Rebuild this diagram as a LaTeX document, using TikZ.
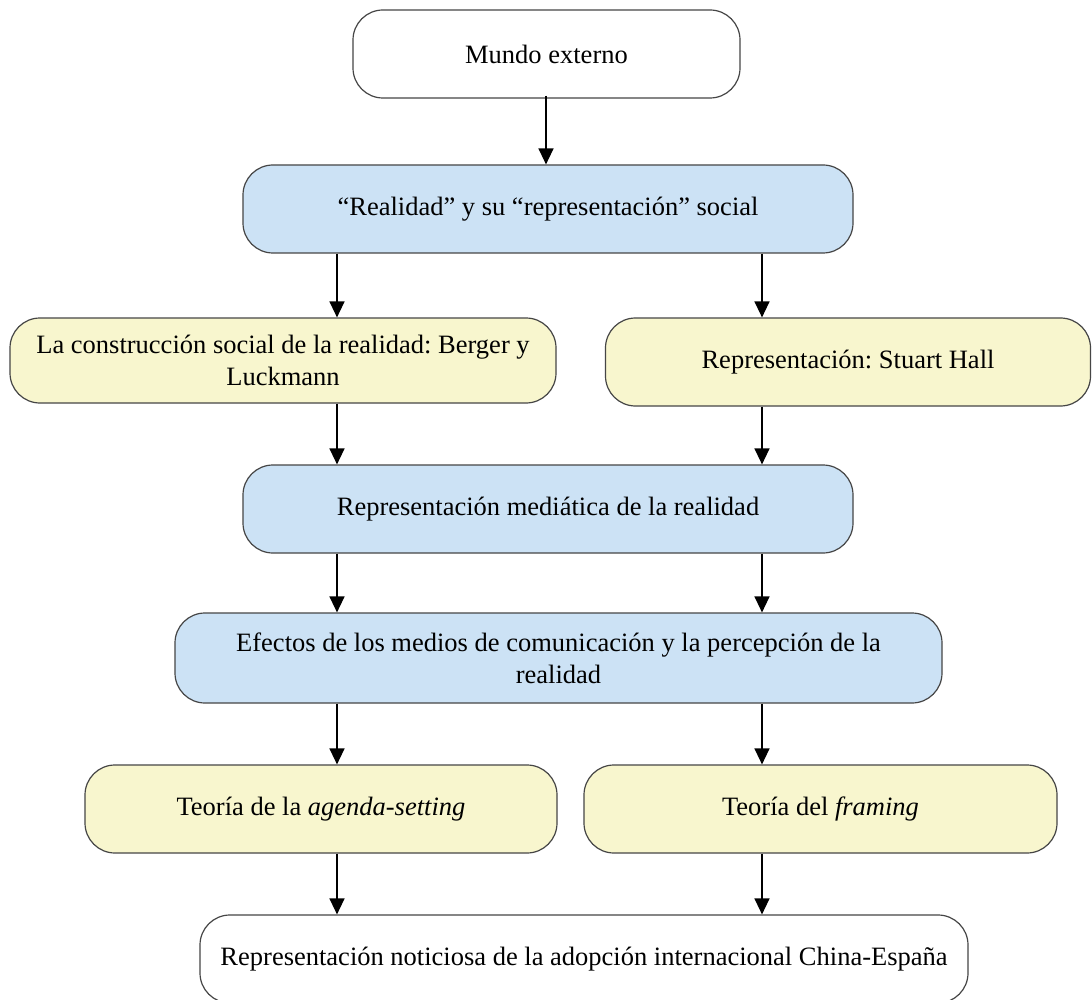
\documentclass[tikz,border=0pt]{standalone}
\usepackage{fontspec}
\setmainfont{Liberation Serif}
\usetikzlibrary{arrows.meta}
\frenchspacing
\definecolor{boxblue}{RGB}{204,226,245}
\definecolor{boxyellow}{RGB}{248,246,206}
\definecolor{boxline}{RGB}{70,70,70}
\tikzset{
  box/.style={draw=boxline, line width=1.2pt, rounded corners=30pt, align=center,
    inner sep=0pt, minimum height=88pt, font=\fontsize{26.5}{32}\selectfont},
  bluebox/.style={box, fill=boxblue},
  yellowbox/.style={box, fill=boxyellow},
  whitebox/.style={box, fill=white},
}
\begin{document}
\begin{tikzpicture}[x=1pt, y=-1pt, >={Triangle[width=15pt,length=16pt]}, line width=1.4pt]
\useasboundingbox[fill=white] (0,0) rectangle (1092,1000);
\coordinate (L) at (337,0);
\coordinate (R) at (762,0);

\node[whitebox, minimum width=387pt] (mundo) at (546.5,54) {Mundo externo};
\node[bluebox, minimum width=610pt] (realidad) at (548,209) {“Realidad” y su “representación” social};
\node[yellowbox, minimum width=546pt, minimum height=85pt] (berger) at (283,360.5) {La construcción social de la realidad: Berger y\\Luckmann};
\node[yellowbox, minimum width=485pt] (hall) at (848,362) {Representación: Stuart Hall};
\node[bluebox, minimum width=610pt] (mediatica) at (548,509) {Representación mediática de la realidad};
\node[bluebox, minimum width=767pt, minimum height=90pt] (efectos) at (558.5,658) {Efectos de los medios de comunicación y la percepción de la\\realidad};
\node[yellowbox, minimum width=472pt] (agenda) at (321,809) {Teoría de la \textit{agenda-setting}};
\node[yellowbox, minimum width=473pt] (framing) at (820.5,809) {Teoría del \textit{framing}};
\node[whitebox, minimum width=768pt] (noticiosa) at (584,959) {Representación noticiosa de la adopción internacional China-España};

\draw[->] ([yshift=3pt]mundo.south -| 546,0) -- (realidad.north -| 546,0);
\draw[->] (realidad.south -| L) -- (berger.north -| L);
\draw[->] (realidad.south -| R) -- (hall.north -| R);
\draw[->] (berger.south -| L) -- (mediatica.north -| L);
\draw[->] (hall.south -| R) -- (mediatica.north -| R);
\draw[->] (mediatica.south -| L) -- (efectos.north -| L);
\draw[->] (mediatica.south -| R) -- (efectos.north -| R);
\draw[->] (efectos.south -| L) -- (agenda.north -| L);
\draw[->] (efectos.south -| R) -- (framing.north -| R);
\draw[->] (agenda.south -| L) -- (noticiosa.north -| L);
\draw[->] (framing.south -| R) -- (noticiosa.north -| R);
\end{tikzpicture}
\end{document}
